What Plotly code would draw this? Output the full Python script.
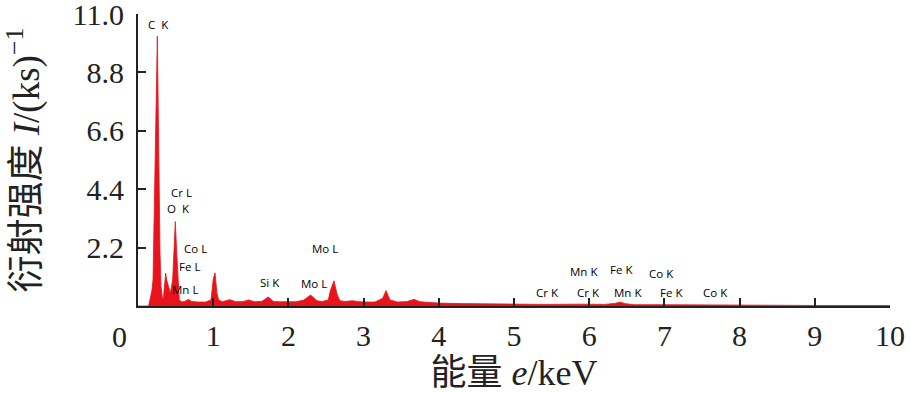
import plotly.graph_objects as go

# EDS spectrum
energy_kev = [0.00, 0.140, 0.150, 0.186, 0.200, 0.213, 0.222, 0.240, 0.250, 0.257, 0.264, 0.275,
              0.285, 0.293, 0.306, 0.328, 0.339, 0.355, 0.368, 0.380, 0.403, 0.430, 0.461,
              0.480, 0.496, 0.515, 0.536, 0.549, 0.580, 0.620, 0.674, 0.710, 0.800, 0.900,
              0.970, 0.984, 1.000, 1.024, 1.050, 1.073, 1.120, 1.220, 1.300, 1.400, 1.470,
              1.550, 1.650, 1.733, 1.800, 1.900, 2.000, 2.100, 2.200, 2.296, 2.380, 2.450,
              2.530, 2.560, 2.606, 2.650, 2.686, 2.750, 2.850, 2.950, 3.050, 3.150, 3.254,
              3.298, 3.351, 3.450, 3.580, 3.670, 3.750, 3.850, 4.000, 4.300, 4.600, 5.000,
              5.400, 5.900, 6.200, 6.350, 6.410, 6.470, 6.600, 7.000, 7.500, 8.000, 9.000, 10.000]
intensity = [0.00, 0.00, 0.11, 0.60, 1.00, 3.00, 4.10, 6.50, 9.00, 10.17, 8.50, 5.80,
             3.50, 2.00, 0.72, 0.23, 0.34, 0.80, 1.24, 1.00, 0.72, 0.49, 0.98,
             2.20, 3.18, 2.00, 0.72, 0.23, 0.16, 0.17, 0.25, 0.17, 0.15, 0.15,
             0.23, 0.60, 1.00, 1.25, 0.48, 0.23, 0.16, 0.24, 0.16, 0.17, 0.23,
             0.16, 0.18, 0.34, 0.17, 0.16, 0.15, 0.16, 0.22, 0.41, 0.20, 0.17,
             0.23, 0.60, 0.95, 0.41, 0.20, 0.17, 0.20, 0.16, 0.15, 0.15, 0.29,
             0.58, 0.23, 0.15, 0.17, 0.25, 0.16, 0.13, 0.11, 0.09, 0.08, 0.07,
             0.06, 0.07, 0.06, 0.10, 0.15, 0.09, 0.05, 0.05, 0.04, 0.03, 0.02, 0.02]

# element line labels: (text, energy, intensity position)
peak_labels = ["C\u00a0\u00a0K", "Cr L", "O\u00a0\u00a0K", "Co L", "Fe L", "Mn L", "Si K", "Mo L", "Mo L",
               "Cr K", "Mn K", "Cr K", "Fe K", "Mn K", "Co K", "Fe K", "Co K"]
label_e = [0.266, 0.572, 0.532, 0.771, 0.691, 0.625, 1.755, 2.34, 2.487,
           5.439, 5.931, 5.984, 6.436, 6.516, 6.968, 7.088, 7.686]
label_i = [10.62, 4.27, 3.69, 2.18, 1.47, 0.64, 0.87, 0.83, 2.15,
           0.49, 1.29, 0.49, 1.36, 0.49, 1.24, 0.49, 0.49]

x_ticks = list(range(1, 11))
x_ticktext = [str(v) for v in x_ticks]
y_ticks = [2.2, 4.4, 6.6, 8.8, 11.0]
y_ticktext = ["2.2", "4.4", "6.6", "8.8", "11.0"]

RED = "#e8141c"
INK = "#222222"

fig = go.Figure()
fig.add_trace(go.Scatter(
    x=energy_kev, y=intensity, mode="lines", fill="tozeroy",
    line=dict(color=RED, width=0.8), fillcolor=RED, showlegend=False,
    hoverinfo="skip"))

annotations = []
for t, e, i in zip(peak_labels, label_e, label_i):
    annotations.append(dict(x=e, y=i, xref="x", yref="y", text=t, showarrow=False,
                            font=dict(family="Open Sans", size=11.5, color="#000000"),
                            xanchor="center", yanchor="middle"))
# the "0" label of the energy axis sits left of the origin in the reference
annotations.append(dict(x=-0.024, y=0, xref="paper", yref="paper", text="0", showarrow=False,
                        font=dict(family="Liberation Serif", size=30, color=INK),
                        xanchor="center", yanchor="top", yshift=-12))

serif = "Liberation Serif, Noto Sans CJK SC"

fig.update_layout(
    width=910, height=393,
    margin=dict(l=138, r=20, t=14, b=87),
    paper_bgcolor="white", plot_bgcolor="white",
    annotations=annotations,
    xaxis=dict(range=[0, 10], tickvals=x_ticks, ticktext=x_ticktext, automargin=False,
               ticks="inside", ticklen=8, tickwidth=2, tickcolor=INK,
               showline=True, linecolor=INK, linewidth=2, ticklabeloverflow="allow",
               showgrid=False, zeroline=False, ticklabelstandoff=2,
               tickfont=dict(family=serif, size=30, color=INK),
               title=dict(text="能量 <i>e</i>/keV", standoff=13,
                          font=dict(family=serif, size=36, color=INK))),
    yaxis=dict(range=[0, 11.0], tickvals=y_ticks, ticktext=y_ticktext, automargin=False,
               ticks="inside", ticklen=8, tickwidth=2, tickcolor=INK,
               showline=True, linecolor=INK, linewidth=2, ticklabeloverflow="allow",
               showgrid=False, zeroline=False, ticklabelstandoff=6,
               tickfont=dict(family=serif, size=30, color=INK),
               title=dict(text="衍射强度 <i>I</i>/(ks)<sup>−1</sup>", standoff=22,
                          font=dict(family=serif, size=37, color=INK))),
)

fig.write_html("out.html", config={"displayModeBar": False},
               post_script="document.body.style.margin='0';document.body.style.padding='0';")
